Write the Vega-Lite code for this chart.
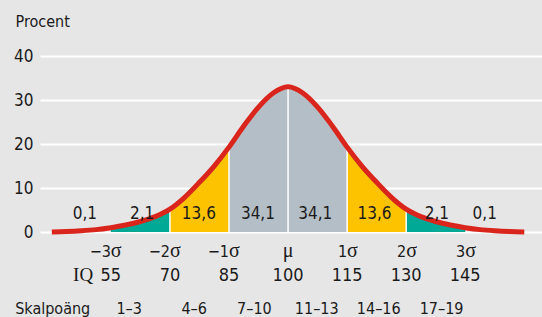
{
  "$schema": "https://vega.github.io/schema/vega-lite/v6.json",
  "width": 502,
  "height": 305,
  "autosize": "none",
  "padding": {"left": 40, "top": 12, "right": 0, "bottom": 0},
  "background": "#e6e6e6",
  "config": {
    "view": {"stroke": null}
  },
  "datasets": {
    "curve": [
      {"z": -4, "v": 0.0}, {"z": -3.75, "v": 0.1}, {"z": -3.5, "v": 0.28}, {"z": -3.25, "v": 0.55},
      {"z": -3, "v": 1.0}, {"z": -2.75, "v": 1.6}, {"z": -2.5, "v": 2.4}, {"z": -2.25, "v": 3.5},
      {"z": -2, "v": 5.2}, {"z": -1.75, "v": 7.9}, {"z": -1.5, "v": 11.3}, {"z": -1.25, "v": 15.0},
      {"z": -1, "v": 19.3}, {"z": -0.75, "v": 24.1}, {"z": -0.5, "v": 28.4}, {"z": -0.25, "v": 31.6},
      {"z": 0, "v": 33.0},
      {"z": 0.25, "v": 31.6}, {"z": 0.5, "v": 28.4}, {"z": 0.75, "v": 24.1}, {"z": 1, "v": 19.3},
      {"z": 1.25, "v": 15.0}, {"z": 1.5, "v": 11.3}, {"z": 1.75, "v": 7.9}, {"z": 2, "v": 5.2},
      {"z": 2.25, "v": 3.5}, {"z": 2.5, "v": 2.4}, {"z": 2.75, "v": 1.6}, {"z": 3, "v": 1.0},
      {"z": 3.25, "v": 0.55}, {"z": 3.5, "v": 0.28}, {"z": 3.75, "v": 0.1}, {"z": 4, "v": 0.0}
    ],
    "bands": [
      {"seg": "t1", "z": -3, "v": 1.0}, {"seg": "t1", "z": -2.75, "v": 1.6}, {"seg": "t1", "z": -2.5, "v": 2.4}, {"seg": "t1", "z": -2.25, "v": 3.5}, {"seg": "t1", "z": -2, "v": 5.2},
      {"seg": "y1", "z": -2, "v": 5.2}, {"seg": "y1", "z": -1.75, "v": 7.9}, {"seg": "y1", "z": -1.5, "v": 11.3}, {"seg": "y1", "z": -1.25, "v": 15.0}, {"seg": "y1", "z": -1, "v": 19.3},
      {"seg": "g", "z": -1, "v": 19.3}, {"seg": "g", "z": -0.75, "v": 24.1}, {"seg": "g", "z": -0.5, "v": 28.4}, {"seg": "g", "z": -0.25, "v": 31.6}, {"seg": "g", "z": 0, "v": 33.0},
      {"seg": "g", "z": 0.25, "v": 31.6}, {"seg": "g", "z": 0.5, "v": 28.4}, {"seg": "g", "z": 0.75, "v": 24.1}, {"seg": "g", "z": 1, "v": 19.3},
      {"seg": "y2", "z": 1, "v": 19.3}, {"seg": "y2", "z": 1.25, "v": 15.0}, {"seg": "y2", "z": 1.5, "v": 11.3}, {"seg": "y2", "z": 1.75, "v": 7.9}, {"seg": "y2", "z": 2, "v": 5.2},
      {"seg": "t2", "z": 2, "v": 5.2}, {"seg": "t2", "z": 2.25, "v": 3.5}, {"seg": "t2", "z": 2.5, "v": 2.4}, {"seg": "t2", "z": 2.75, "v": 1.6}, {"seg": "t2", "z": 3, "v": 1.0}
    ],
    "pct": [
      {"z": -3.44, "v": 3.0, "label": "0,1"}, {"z": -2.47, "v": 3.0, "label": "2,1"}, {"z": -1.51, "v": 3.0, "label": "13,6"}, {"z": -0.51, "v": 3.0, "label": "34,1"},
      {"z": 0.46, "v": 3.0, "label": "34,1"}, {"z": 1.465, "v": 3.0, "label": "13,6"}, {"z": 2.52, "v": 3.0, "label": "2,1"}, {"z": 3.33, "v": 3.0, "label": "0,1"}
    ],
    "sig": [
      {"z": -3, "v": -5.6, "label": "−3"}, {"z": -2, "v": -5.6, "label": "−2"}, {"z": -1, "v": -5.6, "label": "−1"},
      {"z": 1, "v": -5.6, "label": "1"}, {"z": 2, "v": -5.6, "label": "2"}, {"z": 3, "v": -5.6, "label": "3"}
    ],
    "mu": [{"z": 0, "v": -5.6, "label": "μ"}],
    "iq": [
      {"z": -3, "v": -11.1, "label": "55"}, {"z": -2, "v": -11.1, "label": "70"}, {"z": -1, "v": -11.1, "label": "85"}, {"z": 0, "v": -11.1, "label": "100"},
      {"z": 1, "v": -11.1, "label": "115"}, {"z": 2, "v": -11.1, "label": "130"}, {"z": 3, "v": -11.1, "label": "145"}
    ],
    "iqlab": [{"z": -3.47, "v": -11.1, "label": "IQ"}],
    "skal": [
      {"z": -2.69, "v": -18.6, "label": "1–3"}, {"z": -1.59, "v": -18.6, "label": "4–6"}, {"z": -0.57, "v": -18.6, "label": "7–10"},
      {"z": 0.486, "v": -18.6, "label": "11–13"}, {"z": 1.536, "v": -18.6, "label": "14–16"}, {"z": 2.6, "v": -18.6, "label": "17–19"}
    ],
    "skallab": [{"z": -4.62, "v": -18.6, "label": "Skalpoäng"}]
  },
  "encoding": {
    "x": {"field": "z", "type": "quantitative", "scale": {"domain": [-4.2, 4.3]}, "axis": null},
    "y": {
      "field": "v", "type": "quantitative", "stack": null,
      "scale": {"domain": [-19.3, 50], "nice": false, "zero": false},
      "axis": {
        "title": "Procent", "values": [0, 10, 20, 30, 40],
        "grid": true, "gridColor": "#ffffff", "gridWidth": 2,
        "domain": false, "ticks": false, "labelPadding": 7,
        "labelFont": "DejaVu Sans Condensed", "labelFontSize": 17, "labelColor": "#1a1a1a",
        "titleAngle": 0, "titleAlign": "left", "titleBaseline": "alphabetic",
        "titleX": -25, "titleY": 14.7,
        "titleFont": "DejaVu Sans Condensed", "titleFontSize": 16, "titleFontWeight": "normal", "titleColor": "#1a1a1a"
      }
    }
  },
  "layer": [
    {
      "data": {"name": "bands"},
      "mark": {"type": "area", "interpolate": "monotone"},
      "encoding": {
        "color": {"field": "seg", "type": "nominal", "legend": null,
          "scale": {"domain": ["t1", "y1", "g", "y2", "t2"], "range": ["#00a896", "#fdc300", "#b4bec6", "#fdc300", "#00a896"]}}
      }
    },
    {
      "data": {"name": "curve"},
      "transform": [{"filter": {"field": "z", "oneOf": [-2, -1, 0, 1, 2]}}],
      "mark": {"type": "rule", "color": "#ffffff", "strokeWidth": 1.5},
      "encoding": {"y2": {"datum": 0}}
    },
    {
      "data": {"name": "curve"},
      "mark": {"type": "line", "interpolate": "monotone", "color": "#da251d", "strokeWidth": 5, "strokeCap": "butt"},
      "encoding": {}
    },
    {
      "data": {"name": "pct"},
      "mark": {"type": "text", "font": "DejaVu Sans Condensed", "fontSize": 17, "color": "#1a1a1a", "baseline": "alphabetic", "align": "center"},
      "encoding": {"text": {"field": "label", "type": "nominal"}}
    },
    {
      "data": {"name": "sig"},
      "mark": {"type": "text", "font": "DejaVu Sans Condensed", "fontSize": 16, "color": "#1a1a1a", "baseline": "alphabetic", "align": "right"},
      "encoding": {"text": {"field": "label", "type": "nominal"}}
    },
    {
      "data": {"name": "sig"},
      "mark": {"type": "text", "text": "σ", "font": "Liberation Serif", "fontSize": 20, "color": "#1a1a1a", "baseline": "alphabetic", "align": "left"},
      "encoding": {}
    },
    {
      "data": {"name": "mu"},
      "mark": {"type": "text", "font": "Liberation Serif", "fontSize": 20, "color": "#1a1a1a", "baseline": "alphabetic", "align": "center"},
      "encoding": {"text": {"field": "label", "type": "nominal"}}
    },
    {
      "data": {"name": "iq"},
      "mark": {"type": "text", "font": "DejaVu Sans Condensed", "fontSize": 18, "color": "#1a1a1a", "baseline": "alphabetic", "align": "center"},
      "encoding": {"text": {"field": "label", "type": "nominal"}}
    },
    {
      "data": {"name": "iqlab"},
      "mark": {"type": "text", "font": "Liberation Serif", "fontSize": 19, "color": "#1a1a1a", "baseline": "alphabetic", "align": "center"},
      "encoding": {"text": {"field": "label", "type": "nominal"}}
    },
    {
      "data": {"name": "skal"},
      "mark": {"type": "text", "font": "DejaVu Sans Condensed", "fontSize": 16, "color": "#1a1a1a", "baseline": "alphabetic", "align": "center"},
      "encoding": {"text": {"field": "label", "type": "nominal"}}
    },
    {
      "data": {"name": "skallab"},
      "mark": {"type": "text", "font": "DejaVu Sans Condensed", "fontSize": 16, "color": "#1a1a1a", "baseline": "alphabetic", "align": "left"},
      "encoding": {"text": {"field": "label", "type": "nominal"}}
    }
  ]
}
